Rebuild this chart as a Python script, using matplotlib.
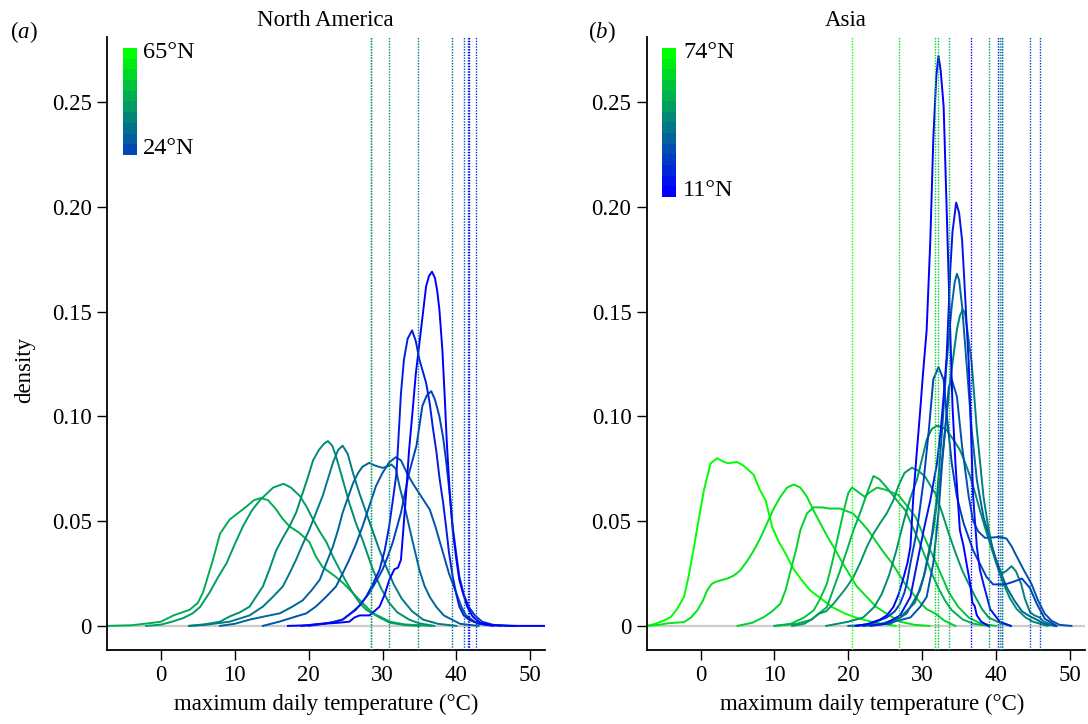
import numpy as np
import matplotlib
matplotlib.use("Agg")
import matplotlib.pyplot as plt
from matplotlib.colors import LinearSegmentedColormap, Normalize

plt.rcParams['font.family'] = ['Liberation Serif', 'DejaVu Serif']
plt.rcParams['mathtext.fontset'] = 'custom'
plt.rcParams['mathtext.rm'] = 'Liberation Serif'
plt.rcParams['mathtext.it'] = 'Liberation Serif:italic'

# ---- North America: density curves (temperature, density)
na1 = [(-7.3, 0), (-4, 0.0003), (-1.5, 0.0013), (0, 0.002), (1.7, 0.005), (3.9, 0.0077), (5, 0.011),
       (5.7, 0.016), (7, 0.031), (8, 0.044), (9.3, 0.0507), (10.5, 0.054), (11.6, 0.057), (12.6, 0.060),
       (13.5, 0.061), (14.5, 0.060), (15.5, 0.056), (16.5, 0.051), (17.4, 0.0475), (18.7, 0.0445),
       (20.1, 0.040), (21, 0.033), (21.9, 0.028), (23.6, 0.0236), (24.8, 0.020), (25.9, 0.016),
       (27.7, 0.0095), (28.7, 0.006), (29.6, 0.0045), (31, 0.002), (33, 0.0007), (36.6, 0)]
na2 = [(-2, 0), (0, 0.0006), (1.5, 0.002), (3, 0.0037), (4.3, 0.006), (5.3, 0.009), (6.6, 0.016),
       (7.7, 0.023), (8.9, 0.030), (10, 0.039), (11.1, 0.0475), (12.3, 0.055), (13.4, 0.060),
       (14.3, 0.063), (15.2, 0.066), (16.6, 0.0678), (17.6, 0.066), (18.8, 0.062), (19.7, 0.057),
       (20.6, 0.0507), (21.5, 0.045), (22.4, 0.040), (23.3, 0.033), (24.2, 0.0268), (25.1, 0.021),
       (26, 0.0156), (26.9, 0.011), (27.8, 0.0077), (29.6, 0.004), (31, 0.0015), (33, 0.0004), (35, 0)]
na3 = [(3.8, 0), (6, 0.0008), (8, 0.002), (9.3, 0.0045), (10.7, 0.0065), (12, 0.0092), (13.8, 0.0188),
       (14.7, 0.027), (15.6, 0.036), (16.5, 0.042), (17.4, 0.0475), (18.3, 0.054), (19.2, 0.0635),
       (19.9, 0.071), (20.6, 0.079), (21.4, 0.084), (22.1, 0.087), (22.6, 0.0882), (23.2, 0.086),
       (23.7, 0.081), (24.6, 0.070), (25.5, 0.0587), (26.4, 0.049), (27.3, 0.041), (28.7, 0.0268),
       (29.8, 0.018), (30.9, 0.011), (32, 0.0065), (33.6, 0.003), (35, 0.0012), (37, 0)]
na4 = [(3.8, 0), (6, 0.0005), (9.3, 0.002), (12, 0.005), (13.8, 0.0092), (15.2, 0.014), (16.5, 0.0188),
       (17.4, 0.025), (18.3, 0.0316), (19.2, 0.039), (20.1, 0.046), (21, 0.054), (21.9, 0.062),
       (22.6, 0.070), (23.3, 0.078), (24, 0.084), (24.6, 0.086), (25.3, 0.082), (26, 0.073),
       (26.9, 0.063), (27.8, 0.054), (28.6, 0.046), (29.5, 0.037), (30.4, 0.029), (31.5, 0.020),
       (32.6, 0.013), (34, 0.007), (35.5, 0.003), (37.5, 0.001), (40, 0)]
na5 = [(8, 0), (10, 0.001), (12, 0.003), (14, 0.0045), (16.1, 0.006), (17.7, 0.009), (19.2, 0.0122),
       (20.4, 0.017), (21.5, 0.022), (22.4, 0.030), (23.3, 0.038), (24, 0.046), (24.6, 0.054),
       (25.3, 0.061), (26, 0.068), (26.7, 0.073), (27.3, 0.076), (28.2, 0.0778), (29, 0.0765),
       (30, 0.0754), (30.6, 0.076), (31.2, 0.077), (31.8, 0.075), (32.3, 0.0666), (33, 0.057),
       (33.6, 0.0475), (34.3, 0.037), (35, 0.0266), (35.7, 0.019), (36.4, 0.0138), (37.3, 0.009),
       (38.3, 0.005), (40.5, 0.001), (43, 0)]
na6 = [(13.8, 0), (16, 0.002), (18.3, 0.0045), (19.7, 0.006), (21, 0.0093), (22.4, 0.014),
       (23.7, 0.0188), (24.6, 0.025), (25.5, 0.0316), (26.4, 0.039), (27.3, 0.0475), (28.2, 0.057),
       (29.1, 0.0666), (30, 0.073), (30.9, 0.078), (31.8, 0.0805), (32.5, 0.079), (33.3, 0.073),
       (34.1, 0.068), (35.2, 0.062), (36.4, 0.0555), (37.2, 0.047), (38.1, 0.036), (39, 0.025),
       (40, 0.0156), (40.7, 0.009), (41.3, 0.005), (42.5, 0.002), (44, 0.0005), (46, 0)]
na7 = [(19, 0), (21, 0.0008), (23, 0.0015), (24.6, 0.003), (26, 0.0069), (27, 0.010), (27.8, 0.014),
       (28.7, 0.020), (29.6, 0.0268), (30.3, 0.036), (30.9, 0.0475), (31.4, 0.060), (31.9, 0.073),
       (32.2, 0.092), (32.5, 0.111), (32.9, 0.127), (33.4, 0.137), (34, 0.141), (34.5, 0.136),
       (35, 0.127), (35.9, 0.116), (36.4, 0.106), (36.8, 0.095), (37.3, 0.083), (37.7, 0.071),
       (38.2, 0.059), (38.6, 0.0475), (39, 0.035), (39.5, 0.0236), (40, 0.015), (40.4, 0.0092),
       (41, 0.005), (41.7, 0.003), (43, 0.001), (45, 0)]
na8 = [(20, 0), (22, 0.001), (23.5, 0.002), (24.6, 0.003), (26.4, 0.0077), (28.2, 0.0156), (29.1, 0.021),
       (30, 0.0268), (30.7, 0.033), (31.4, 0.040), (32.5, 0.054), (33.6, 0.073), (34.6, 0.086),
       (35.4, 0.105), (36, 0.110), (36.6, 0.112), (37.1, 0.108), (37.7, 0.100), (38.2, 0.090),
       (38.6, 0.079), (39.1, 0.063), (39.5, 0.0475), (40, 0.034), (40.4, 0.0236), (41, 0.015),
       (41.7, 0.009), (42.5, 0.005), (43.5, 0.002), (45, 0.0005), (48, 0)]
na9 = [(17.2, 0), (20, 0.0003), (22, 0.001), (24, 0.0015), (25.5, 0.002), (26.2, 0.004), (26.9, 0.005),
       (27.5, 0.005), (28.2, 0.005), (28.9, 0.007), (29.6, 0.0092), (30.3, 0.015), (30.9, 0.0218),
       (31.6, 0.027), (32.1, 0.0278), (32.5, 0.0316), (32.8, 0.045), (33.2, 0.0636), (33.6, 0.084),
       (34.1, 0.1036), (34.5, 0.120), (35, 0.135), (35.5, 0.150), (35.9, 0.162), (36.3, 0.167),
       (36.7, 0.169), (37.1, 0.166), (37.4, 0.160), (37.7, 0.151), (38.1, 0.132), (38.4, 0.111),
       (38.7, 0.088), (39.1, 0.0636), (39.5, 0.046), (40, 0.0316), (40.4, 0.022), (40.9, 0.0156),
       (41.5, 0.009), (42.2, 0.0045), (43.2, 0.0015), (44.6, 0.0005), (47, 0), (52, 0)]
na_curves = [na1, na2, na3, na4, na5, na6, na7, na8, na9]
na_lat = [51.9, 49.4, 46.6, 43.7, 40.4, 37.5, 28.9, 34.3, 24.0]
na_upper = [28.4, 28.5, 30.9, 34.8, 39.4, 41.1, 41.6, 42.7, 41.75]

# ---- Asia
as1 = [(-7.2, 0), (-6, 0.0012), (-5, 0.0025), (-4.05, 0.0042), (-3.2, 0.008), (-2.25, 0.0138),
       (-1.6, 0.024), (-0.9, 0.0377), (-0.2, 0.052), (0.45, 0.0648), (1.35, 0.0776), (2.25, 0.080),
       (3, 0.0785), (3.7, 0.0776), (4.9, 0.0782), (5.6, 0.077), (6.3, 0.075), (7.2, 0.072),
       (8, 0.065), (8.8, 0.060), (9.7, 0.047), (10.6, 0.040), (11.5, 0.0345), (12.6, 0.027),
       (13.7, 0.0218), (14.8, 0.017), (16, 0.0138), (17.8, 0.009), (19.6, 0.0058), (21.4, 0.0035),
       (23.2, 0.002), (26.4, 0)]
as2 = [(-7.2, 0), (-5.5, 0.0006), (-4.3, 0.0013), (-2.25, 0.0018), (-1.3, 0.004), (-0.45, 0.0074),
       (0.3, 0.012), (0.9, 0.017), (1.5, 0.020), (2, 0.021), (3, 0.022), (3.6, 0.0226), (4.5, 0.024),
       (5.4, 0.0266), (6.3, 0.031), (7.2, 0.036), (8.1, 0.042), (9, 0.049), (9.9, 0.056), (10.8, 0.0616),
       (11.7, 0.066), (12.6, 0.0675), (13.5, 0.066), (14.4, 0.0616), (15.3, 0.055), (16.2, 0.049),
       (17.1, 0.043), (18, 0.0377), (18.9, 0.032), (19.8, 0.0266), (21.1, 0.019), (22.5, 0.0138),
       (23.8, 0.009), (25.2, 0.0058), (27, 0.002), (29, 0.0005), (31, 0)]
as3 = [(5, 0), (7, 0.0015), (8.55, 0.0042), (9.7, 0.007), (10.8, 0.0106), (11.5, 0.017), (12.2, 0.0266),
       (12.9, 0.036), (13.5, 0.0457), (14.4, 0.0537), (15.3, 0.0566), (16.5, 0.0565), (17.5, 0.056),
       (18.9, 0.056), (19.6, 0.055), (20.6, 0.0537), (21.6, 0.050), (22.6, 0.046), (23.6, 0.041),
       (24.8, 0.035), (25.9, 0.030), (27.7, 0.020), (29.5, 0.012), (30.6, 0.008), (31.8, 0.0058),
       (33, 0.0025), (34.5, 0)]
as4 = [(10, 0), (12.2, 0.001), (14, 0.004), (15.3, 0.0074), (16.2, 0.013), (17.1, 0.0202), (17.8, 0.030),
       (18.5, 0.041), (19.4, 0.0553), (20, 0.0635), (20.5, 0.066), (21.3, 0.064), (22.2, 0.0616),
       (23, 0.064), (23.9, 0.066), (25, 0.065), (26.8, 0.0624), (28, 0.057), (29.1, 0.052),
       (30.2, 0.043), (31.3, 0.0345), (32.5, 0.025), (33.6, 0.016), (34.9, 0.009), (36.3, 0.004),
       (38, 0.001), (40, 0)]
as5 = [(10, 0), (13, 0.001), (15, 0.003), (17.1, 0.009), (18.9, 0.0266), (19.8, 0.036), (20.7, 0.0457),
       (21.6, 0.054), (22.5, 0.063), (23.4, 0.0715), (24.2, 0.070), (25.2, 0.066), (26.1, 0.062),
       (27, 0.058), (27.7, 0.0553), (28.6, 0.048), (29.5, 0.041), (30.4, 0.033), (31.3, 0.025),
       (32.2, 0.018), (33.1, 0.012), (34, 0.0075), (35.5, 0.003), (37, 0.001), (39, 0)]
as6 = [(12.4, 0), (14, 0.001), (15, 0.003), (16, 0.0058), (17, 0.007), (18, 0.0106), (19, 0.015),
       (19.8, 0.0186), (20.7, 0.0234), (21.6, 0.030), (22.5, 0.0377), (23.4, 0.044), (24.3, 0.049),
       (25.2, 0.0537), (26.1, 0.060), (26.8, 0.067), (27.6, 0.073), (28.6, 0.0755), (29.5, 0.074),
       (30.4, 0.0712), (31.1, 0.067), (31.8, 0.063), (32.7, 0.054), (33.6, 0.044), (34.5, 0.035),
       (35.4, 0.0266), (36.3, 0.020), (37.2, 0.0138), (38.1, 0.008), (39, 0.004), (40.5, 0.0015),
       (42, 0)]
as7 = [(17, 0), (20, 0.002), (22, 0.004), (23.5, 0.009), (24.5, 0.015), (25.5, 0.024), (26.5, 0.036),
       (27.5, 0.050), (28.4, 0.061), (29.3, 0.070), (30, 0.080), (30.6, 0.0888), (31.3, 0.094),
       (32, 0.0955), (32.6, 0.095), (33.3, 0.0935), (34.2, 0.089), (35.1, 0.084), (35.8, 0.078),
       (36.5, 0.0712), (37.2, 0.063), (37.8, 0.0553), (38.5, 0.047), (39.2, 0.039), (40.1, 0.029),
       (41, 0.020), (41.9, 0.013), (42.8, 0.008), (44, 0.004), (45, 0.002), (47, 0)]
as8 = [(22, 0), (24.5, 0.001), (27, 0.004), (29, 0.011), (30.2, 0.0234), (31.5, 0.0457), (32.4, 0.0696),
       (33.1, 0.0935), (33.8, 0.1175), (34.7, 0.1414), (35.1, 0.148), (35.5, 0.151), (35.8, 0.149),
       (36.1, 0.1414), (36.7, 0.1255), (37.4, 0.0935), (38.3, 0.0616), (38.9, 0.048), (39.4, 0.039),
       (40, 0.031), (40.5, 0.027), (40.8, 0.025), (41.3, 0.026), (42.1, 0.0285), (42.7, 0.026),
       (43.4, 0.020), (43.9, 0.013), (44.6, 0.0065), (45.2, 0.005), (45.9, 0.004), (46.5, 0.002), (48, 0)]
as9 = [(20, 0), (23, 0.0005), (25.7, 0.001), (27.9, 0.006), (29.7, 0.017), (30.4, 0.026), (31.1, 0.0377),
       (32, 0.0616), (32.7, 0.0935), (33.3, 0.1255), (34, 0.1525), (34.4, 0.164), (34.7, 0.168),
       (35, 0.165), (35.4, 0.1525), (36, 0.1255), (36.7, 0.0935), (37.4, 0.0696), (38.3, 0.052),
       (39.6, 0.036), (40.5, 0.0266), (41.5, 0.018), (42.5, 0.012), (43.5, 0.007), (44.6, 0.0045),
       (45.5, 0.003), (46.5, 0.001), (48, 0)]
as10 = [(22, 0), (25, 0.001), (28.4, 0.004), (29.7, 0.009), (30.6, 0.0138), (31.5, 0.0298), (32.2, 0.0537),
        (32.7, 0.0776), (33.1, 0.0935), (33.6, 0.114), (34, 0.1175), (34.7, 0.1095), (35.4, 0.0856),
        (36.3, 0.0616), (36.9, 0.050), (37.6, 0.045), (38.5, 0.042), (39.6, 0.0422), (40.5, 0.0425),
        (41.4, 0.0417), (42.1, 0.038), (42.6, 0.0345), (43.7, 0.027), (44.8, 0.020), (45.7, 0.012),
        (46.6, 0.0058), (47.5, 0.0025), (48.6, 0.0005), (50.2, 0)]
as11 = [(21, 0), (23, 0.001), (25.2, 0.004), (26.3, 0.007), (27, 0.0106), (27.6, 0.016), (27.9, 0.020),
        (28.4, 0.0298), (29.3, 0.0457), (30.2, 0.0696), (30.9, 0.0935), (31.5, 0.1175), (32.2, 0.1235),
        (32.9, 0.1175), (33.3, 0.1015), (34, 0.0776), (34.7, 0.0616), (35.6, 0.049), (36.9, 0.036),
        (38.7, 0.0234), (39.6, 0.0198), (40.5, 0.0198), (41.4, 0.020), (42.3, 0.021), (43.5, 0.0226),
        (44.6, 0.018), (45.5, 0.0106), (46.6, 0.0034), (48.2, 0)]
as12 = [(23, 0), (25, 0.001), (27, 0.005), (28.4, 0.0138), (29.3, 0.0298), (30.2, 0.0457), (31.1, 0.060),
        (32, 0.0776), (32.5, 0.093), (32.9, 0.1095), (33.3, 0.128), (33.6, 0.1525), (33.8, 0.170),
        (34.1, 0.188), (34.6, 0.202), (35, 0.197), (35.4, 0.184), (35.7, 0.165), (36, 0.1446),
        (36.3, 0.1255), (36.6, 0.0935), (36.9, 0.0616), (37.4, 0.0377), (37.8, 0.027), (38.3, 0.020),
        (39.2, 0.008), (40.5, 0.002), (42, 0)]
as13 = [(21, 0), (22.5, 0.0008), (24.3, 0.003), (25.2, 0.005), (26.1, 0.009), (26.8, 0.015),
        (27.5, 0.0234), (28, 0.030), (28.4, 0.0377), (28.8, 0.0616), (29.2, 0.080), (29.7, 0.1015),
        (30.1, 0.120), (30.6, 0.141), (31.1, 0.184), (31.5, 0.232), (31.9, 0.262), (32.2, 0.272),
        (32.5, 0.265), (32.9, 0.248), (33.3, 0.200), (33.8, 0.140), (34.1, 0.105), (34.5, 0.0776),
        (35.1, 0.0457), (35.6, 0.038), (36, 0.0298), (36.5, 0.020), (36.8, 0.011), (37.1, 0.0095),
        (37.4, 0.005), (38, 0.002), (39, 0)]
as_curves = [as1, as2, as3, as4, as5, as6, as7, as8, as9, as10, as11, as12, as13]
as_lat = [74.0, 67.7, 62.7, 60.1, 55.1, 48.8, 45.7, 42.5, 36.2, 31.2, 26.8, 16.0, 11.0]
as_upper = [20.5, 26.9, 31.8, 32.1, 33.6, 39.1, 40.6, 40.8, 40.75, 44.6, 45.9, 40.3, 36.6]

bluegreen = LinearSegmentedColormap.from_list('bluegreen', ['#0000ff', '#00ff00'])
FS = 16.5
W, H = 1088, 724


def draw_panel(ax, curves, lats, upper, lat_range):
    norm = Normalize(*lat_range)
    ax.axhline(0, color='#cccccc', lw=1.6, zorder=1)
    order = np.argsort(lats)[::-1]
    for i in order:
        t, d = zip(*curves[i])
        ax.plot(t, d, color=bluegreen(norm(lats[i])), lw=1.4, zorder=2)
    for i in order:
        ax.axvline(upper[i], color=bluegreen(norm(lats[i])), lw=1.0,
                   ls=(0, (1, 1)), zorder=3)
    ax.set_xlim(-7.3, 52)
    ax.set_ylim(-0.0115, 0.281)
    ax.set_xticks([0, 10, 20, 30, 40, 50])
    ax.set_yticks([0, 0.05, 0.10, 0.15, 0.20, 0.25])
    ax.set_yticklabels(['0', '0.05', '0.10', '0.15', '0.20', '0.25'])
    for s in ['top', 'right']:
        ax.spines[s].set_visible(False)
    for s in ['left', 'bottom']:
        ax.spines[s].set_linewidth(1.3)
    ax.tick_params(direction='out', length=7, width=1, labelsize=FS, pad=4)


fig = plt.figure(figsize=(10.88, 7.24), dpi=100)
ax1 = fig.add_axes([107 / W, 1 - 650 / H, 438 / W, 613 / H])
ax2 = fig.add_axes([646.7 / W, 1 - 650 / H, 438 / W, 613 / H])

draw_panel(ax1, na_curves, na_lat, na_upper, (24, 65))
draw_panel(ax2, as_curves, as_lat, as_upper, (11, 74))

fig.text(325 / W, 1 - 20 / H, 'North America', ha='center', va='center', fontsize=FS)
fig.text(846 / W, 1 - 20 / H, 'Asia', ha='center', va='center', fontsize=FS)
fig.text(10 / W, 1 - 32 / H, r'($\mathit{a}$)', ha='left', va='center', fontsize=FS)
fig.text(588 / W, 1 - 32 / H, r'($\mathit{b}$)', ha='left', va='center', fontsize=FS)
fig.text(25 / W, 1 - 370 / H, 'density', rotation=90, ha='center', va='center', fontsize=FS)
fig.text(326 / W, 1 - 704 / H, 'maximum daily temperature (°C)', ha='center', va='center', fontsize=FS)
fig.text(872 / W, 1 - 704 / H, 'maximum daily temperature (°C)', ha='center', va='center', fontsize=FS)

# colour keys
cb1 = fig.add_axes([122.7 / W, 1 - 155 / H, 14 / W, 106.7 / H])
cb1.imshow(bluegreen(np.linspace(1, 0.29, 10))[:, None, :], aspect='auto')
cb1.axis('off')
cb2 = fig.add_axes([662.3 / W, 1 - 196.7 / H, 13.7 / W, 148.4 / H])
cb2.imshow(bluegreen(np.linspace(1, 0, 14))[:, None, :], aspect='auto')
cb2.axis('off')
fig.text(143 / W, 1 - 52 / H, '65°N', ha='left', va='center', fontsize=17.5)
fig.text(143 / W, 1 - 148 / H, '24°N', ha='left', va='center', fontsize=17.5)
fig.text(683 / W, 1 - 53 / H, '74°N', ha='left', va='center', fontsize=17.5)
fig.text(683 / W, 1 - 190 / H, '11°N', ha='left', va='center', fontsize=17.5)

fig.savefig('out.png', dpi=100)
